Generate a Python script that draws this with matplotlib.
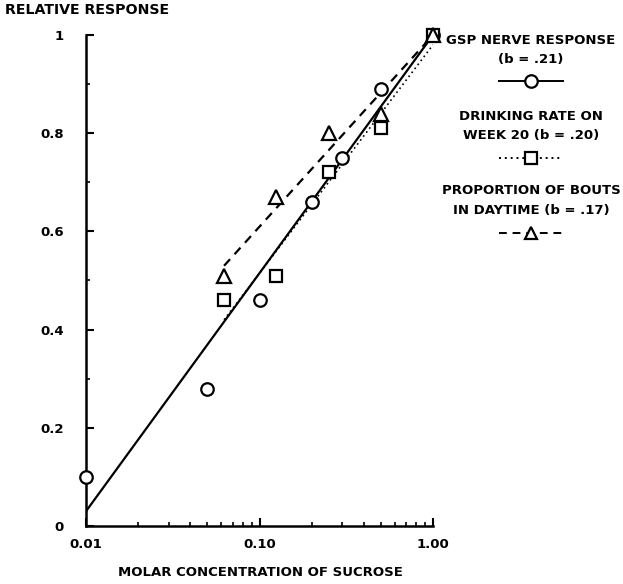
import numpy as np
import matplotlib
matplotlib.use('Agg')
import matplotlib.pyplot as plt
from matplotlib.lines import Line2D
from matplotlib.ticker import FixedLocator, NullFormatter

# 数据
gsp_x = [0.01, 0.05, 0.10, 0.20, 0.30, 0.50, 1.00]
gsp_y = [0.10, 0.28, 0.46, 0.66, 0.75, 0.89, 1.00]
drink_x = [0.0625, 0.125, 0.25, 0.50, 1.00]
drink_y = [0.46, 0.51, 0.72, 0.81, 1.00]
bout_x = [0.0625, 0.125, 0.25, 0.50, 1.00]
bout_y = [0.51, 0.67, 0.80, 0.84, 1.00]

# 拟合线端点
gsp_fit_x = [0.01, 1.00]
gsp_fit_y = [0.03, 1.00]
drink_fit_x = [0.0625, 1.00]
drink_fit_y = [0.42, 0.98]
bout_fit_x = [0.0625, 1.00]
bout_fit_y = [0.53, 1.00]

x_ticks = [0.01, 0.10, 1.00]
x_labels = ['0.01', '0.10', '1.00']
y_ticks = [0, 0.2, 0.4, 0.6, 0.8, 1]
y_labels = ['0', '0.2', '0.4', '0.6', '0.8', '1']

plt.rcParams['font.family'] = 'DejaVu Sans'
plt.rcParams['font.weight'] = 'bold'
fs = 9.5

fig = plt.figure(figsize=(6.23, 5.84), dpi=100)
ax = fig.add_axes([86 / 623, 1 - 526 / 584, 347 / 623, 491 / 584])

ax.plot(gsp_fit_x, gsp_fit_y, color='black', lw=1.6, ls='-')
ax.plot(drink_fit_x, drink_fit_y, color='black', lw=1.2, ls=(0, (1, 2)))
ax.plot(bout_fit_x, bout_fit_y, color='black', lw=1.6, ls=(0, (4, 3)))

mk = dict(ls='none', mfc='white', mec='black', mew=1.6, ms=9, clip_on=False, zorder=5)
ax.plot(gsp_x, gsp_y, marker='o', **mk)
ax.plot(drink_x, drink_y, marker='s', **dict(mk, ms=8))
ax.plot(bout_x, bout_y, marker='^', **dict(mk, ms=10, zorder=6))

ax.set_xscale('log')
ax.set_xlim(0.01, 1.0)
ax.set_ylim(0, 1)
ax.set_xticks(x_ticks)
ax.set_xticklabels(x_labels, fontsize=fs, fontweight='bold')
ax.xaxis.set_minor_locator(FixedLocator([m * 10.0 ** e for e in (-2, -1) for m in range(2, 10)]))
ax.xaxis.set_minor_formatter(NullFormatter())
ax.set_yticks(y_ticks)
ax.set_yticklabels(y_labels, fontsize=fs, fontweight='bold')
ax.yaxis.set_minor_locator(FixedLocator(np.arange(0.1, 1.0, 0.2)))

ax.tick_params(which='major', direction='in', length=6, width=1.5)
ax.tick_params(axis='x', which='major', pad=9)
ax.tick_params(axis='y', which='major', pad=16)
ax.tick_params(which='minor', direction='in', length=3, width=1.2)
for s in ['top', 'right']:
    ax.spines[s].set_visible(False)
for s in ['left', 'bottom']:
    ax.spines[s].set_linewidth(1.8)

fig.text(5 / 623, 1 - 10 / 584, 'RELATIVE RESPONSE', fontsize=10.2, fontweight='bold', va='center')
fig.text(260 / 623, 1 - 572 / 584, 'MOLAR CONCENTRATION OF SUCROSE', fontsize=fs,
         fontweight='bold', ha='center', va='center')

# 图例
cx = 531
legend_items = [
    (['GSP NERVE RESPONSE', '(b = .21)'], [40, 60], 81, '-', 'o'),
    (['DRINKING RATE ON', 'WEEK 20 (b = .20)'], [117, 136], 158, (0, (1, 2)), 's'),
    (['PROPORTION OF BOUTS', 'IN DAYTIME (b = .17)'], [191, 211], 233, (0, (4, 3)), '^'),
]
for lines, ys, ly, ls, m in legend_items:
    for t, y in zip(lines, ys):
        fig.text(cx / 623, 1 - y / 584, t, fontsize=fs, fontweight='bold', ha='center', va='center')
    fig.add_artist(Line2D([(cx - 32) / 623, (cx + 32) / 623], [1 - ly / 584] * 2,
                          color='black', lw=1.4, ls=ls, transform=fig.transFigure))
    fig.add_artist(Line2D([cx / 623], [1 - ly / 584], marker=m, ms=9, mfc='white',
                          mec='black', mew=1.6, ls='none', transform=fig.transFigure))

fig.savefig('out.png', dpi=100)
